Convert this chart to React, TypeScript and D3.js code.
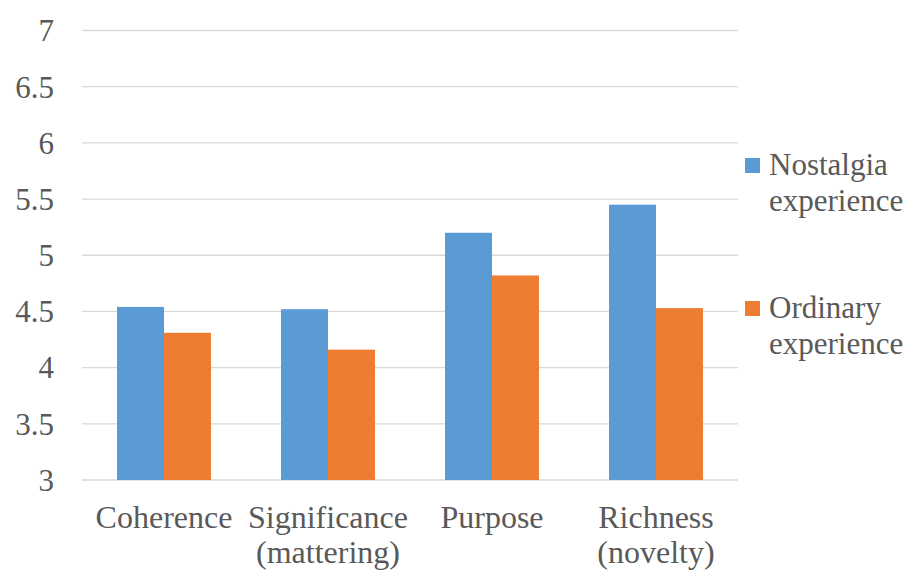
import React, { useRef, useEffect } from 'react';
import * as d3 from 'd3';

const categories: string[][] = [
    ['Coherence'],
    ['Significance', '(mattering)'],
    ['Purpose'],
    ['Richness', '(novelty)'],
];
const seriesNames: string[][] = [
    ['Nostalgia', 'experience'],
    ['Ordinary', 'experience'],
];
const nostalgia = [4.54, 4.52, 5.2, 5.45];
const ordinary = [4.31, 4.16, 4.82, 4.53];
const yTicks = [3, 3.5, 4, 4.5, 5, 5.5, 6, 6.5, 7];
const colors = ['#5B9BD5', '#ED7D31'];

const W = 922;
const H = 584;
const FONT = "'Liberation Serif', 'Times New Roman', Times, 'DejaVu Serif', serif";

const App: React.FC = () => {
    const ref = useRef<SVGSVGElement | null>(null);

    useEffect(() => {
        if (!ref.current) return;
        const svg = d3.select(ref.current);
        svg.selectAll('*').remove();

        const left = 82, right = 738, top = 30.5, bottom = 480;

        const y = d3.scaleLinear().domain([3, 7]).range([bottom, top]);
        const x0 = d3.scaleBand<number>()
            .domain(categories.map((_, i) => i))
            .range([left, right])
            .padding(0);
        // two bars of ~47px centred in each 164px band
        const x1 = d3.scaleBand<number>()
            .domain([0, 1])
            .range([0, x0.bandwidth()])
            .paddingInner(0)
            .paddingOuter(0.745);

        // gridlines
        svg.append('g')
            .selectAll('line')
            .data(yTicks)
            .enter()
            .append('line')
            .attr('x1', left)
            .attr('x2', right)
            .attr('y1', d => y(d))
            .attr('y2', d => y(d))
            .attr('stroke', '#D9D9D9')
            .attr('stroke-width', 1.3);

        // y tick labels
        svg.append('g')
            .selectAll('text')
            .data(yTicks)
            .enter()
            .append('text')
            .attr('x', 54)
            .attr('y', d => y(d))
            .attr('dy', '0.35em')
            .attr('text-anchor', 'end')
            .style('font-family', FONT)
            .style('font-size', '31px')
            .attr('fill', '#595959')
            .text(d => String(d));

        // bars
        const series = [nostalgia, ordinary];
        series.forEach((vals, s) => {
            svg.append('g')
                .selectAll('rect')
                .data(vals)
                .enter()
                .append('rect')
                .attr('x', (_, i) => (x0(i) as number) + (x1(s) as number))
                .attr('y', d => y(d))
                .attr('width', x1.bandwidth())
                .attr('height', d => bottom - y(d))
                .attr('fill', colors[s]);
        });

        // category labels
        const lbl = svg.append('g');
        categories.forEach((lines, i) => {
            const t = lbl.append('text')
                .attr('x', (x0(i) as number) + x0.bandwidth() / 2)
                .attr('y', 528)
                .attr('text-anchor', 'middle')
                .style('font-family', FONT)
                .style('font-size', '32px')
                .attr('fill', '#595959');
            lines.forEach((ln, k) => {
                t.append('tspan')
                    .attr('x', (x0(i) as number) + x0.bandwidth() / 2)
                    .attr('dy', k === 0 ? 0 : 35)
                    .text(ln);
            });
        });

        // legend
        const legY = [175, 318];
        seriesNames.forEach((lines, s) => {
            const g = svg.append('g');
            g.append('rect')
                .attr('x', 745)
                .attr('y', legY[s] - 17)
                .attr('width', 15)
                .attr('height', 15)
                .attr('fill', colors[s]);
            const t = g.append('text')
                .attr('x', 769)
                .attr('y', legY[s])
                .style('font-family', FONT)
                .style('font-size', '31px')
                .attr('fill', '#595959');
            lines.forEach((ln, k) => {
                t.append('tspan')
                    .attr('x', 769)
                    .attr('dy', k === 0 ? 0 : 36)
                    .text(ln);
            });
        });
    }, []);

    return (
        <svg
            ref={ref}
            width={W}
            height={H}
            style={{ position: 'absolute', left: 0, top: 0, background: '#fff' }}
        />
    );
};

export default App;
